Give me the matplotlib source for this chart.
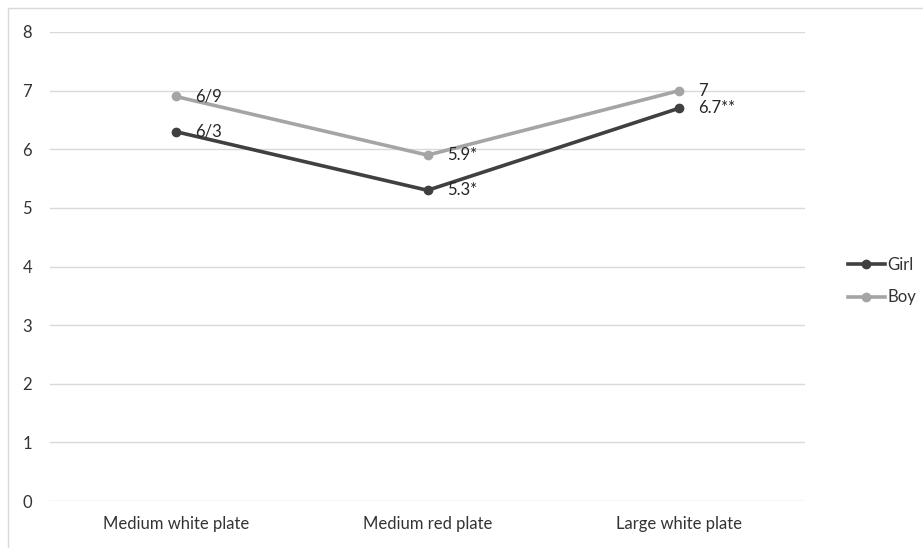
import matplotlib.pyplot as plt
from matplotlib.patches import Rectangle

# chart data
categories = ['Medium white plate', 'Medium red plate', 'Large white plate']
girl = [6.3, 5.3, 6.7]
boy = [6.9, 5.9, 7.0]
girl_labels = ['6/3', '5.3*', '6.7**']
boy_labels = ['6/9', '5.9*', '7']

plt.rcParams['font.family'] = ['Lato', 'DejaVu Sans']

fig = plt.figure(figsize=(9.23, 5.48), dpi=100)
ax = fig.add_axes([50 / 923, 1 - 501 / 548, 755 / 923, 469 / 548])

x = list(range(len(categories)))
ax.plot(x, girl, color='#404040', lw=2.6, marker='o', ms=6, label='Girl', zorder=3)
ax.plot(x, boy, color='#A5A5A5', lw=2.6, marker='o', ms=6, label='Boy', zorder=3)

for xi, v, t in zip(x, boy, boy_labels):
    ax.annotate(t, (xi, v), xytext=(14, 0), textcoords='offset points',
                va='center', ha='left', fontsize=12, color='#262626')
for xi, v, t in zip(x, girl, girl_labels):
    ax.annotate(t, (xi, v), xytext=(14, 0), textcoords='offset points',
                va='center', ha='left', fontsize=12, color='#262626')

ax.set_xlim(-0.5, 2.5)
ax.set_ylim(0, 8)
ax.set_yticks(range(0, 9))
ax.set_xticks(x)
ax.set_xticklabels(categories)
ax.grid(axis='y', color='#D9D9D9', lw=1)
ax.set_axisbelow(True)
for s in ax.spines.values():
    s.set_visible(False)
ax.tick_params(length=0, labelsize=12, colors='#333333')
ax.tick_params(axis='y', pad=13)
ax.tick_params(axis='x', pad=11)

ax.legend(loc='center left', bbox_to_anchor=(833 / 923, 1 - 281 / 548),
          bbox_transform=fig.transFigure, frameon=False, fontsize=12,
          handlelength=2.2, handletextpad=0.15, labelspacing=1.0,
          labelcolor='#333333')

# chart border
fig.patches.append(Rectangle((8 / 923, -0.1), 1.2, 1 - 8 / 548 + 0.1,
                             transform=fig.transFigure, fill=False,
                             edgecolor='#D9D9D9', lw=1))

fig.savefig('out.png', dpi=100)
